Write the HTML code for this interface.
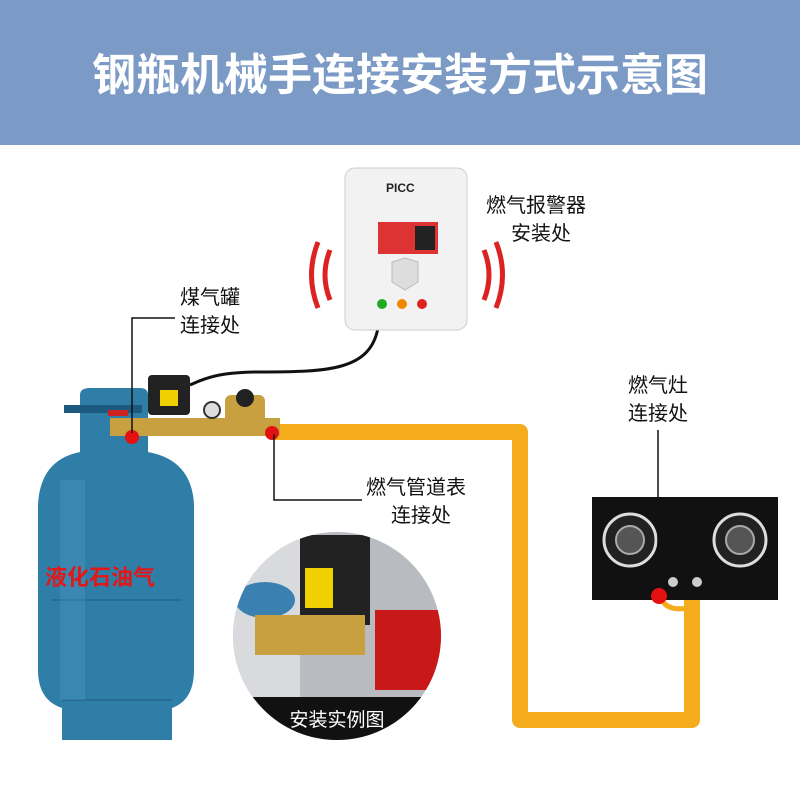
<!DOCTYPE html>
<html><head><meta charset="utf-8"><style>
body{margin:0;width:800px;height:800px;overflow:hidden;background:#fff;font-family:"Liberation Sans","Noto Sans CJK SC",sans-serif}
</style></head><body>
<svg width="800" height="800" viewBox="0 0 800 800" xmlns="http://www.w3.org/2000/svg" font-family="Liberation Sans, Noto Sans CJK SC, sans-serif">
<rect x="0" y="0" width="800" height="145" fill="#7b9bc6"/>
<text x="400" y="90" text-anchor="middle" font-size="44" font-weight="bold" fill="#fff">钢瓶机械手连接安装方式示意图</text>

<!-- yellow pipe -->
<path d="M272 432 H520 V720 H692 V600" fill="none" stroke="#f5ac1c" stroke-width="16" stroke-linejoin="round"/>
<path d="M660 596 Q665 612 688 608" fill="none" stroke="#f5ac1c" stroke-width="5"/>

<!-- stove -->
<rect x="592" y="497" width="186" height="103" fill="#111"/>
<circle cx="630" cy="540" r="26" fill="#222" stroke="#ddd" stroke-width="3"/>
<circle cx="630" cy="540" r="14" fill="#555" stroke="#aaa" stroke-width="2"/>
<circle cx="740" cy="540" r="26" fill="#222" stroke="#ddd" stroke-width="3"/>
<circle cx="740" cy="540" r="14" fill="#555" stroke="#aaa" stroke-width="2"/>
<circle cx="673" cy="582" r="5" fill="#ccc"/><circle cx="697" cy="582" r="5" fill="#ccc"/>
<path d="M658 430 V596" stroke="#111" stroke-width="1.5"/>
<circle cx="659" cy="596" r="8" fill="#e51010"/>

<!-- detector cable -->
<path d="M378 328 C370 370 330 372 260 372 C220 372 205 378 190 385" fill="none" stroke="#111" stroke-width="3"/>
<!-- detector -->
<path d="M330 250 Q320 275 330 300" fill="none" stroke="#d22" stroke-width="5"/>
<path d="M318 242 Q305 275 318 308" fill="none" stroke="#d22" stroke-width="5"/>
<path d="M484 250 Q494 275 484 300" fill="none" stroke="#d22" stroke-width="5"/>
<path d="M496 242 Q509 275 496 308" fill="none" stroke="#d22" stroke-width="5"/>
<rect x="345" y="168" width="122" height="162" rx="10" fill="#f2f2f2" stroke="#ccc"/>
<text x="386" y="192" font-size="12" font-weight="bold" fill="#222">PICC</text>
<rect x="378" y="222" width="60" height="32" fill="#d33"/>
<rect x="415" y="226" width="20" height="24" fill="#222"/>
<path d="M392 262 L405 258 L418 262 L418 282 L405 290 L392 282Z" fill="#ddd" stroke="#bbb"/>
<circle cx="382" cy="304" r="5" fill="#2a2"/><circle cx="402" cy="304" r="5" fill="#e80"/><circle cx="422" cy="304" r="5" fill="#d22"/>

<!-- cylinder -->
<path d="M62 740 L62 708 Q38 700 38 670 L38 505 Q40 460 80 452 L80 395 Q80 388 90 388 L140 388 Q148 388 148 395 L148 452 Q192 460 194 505 L194 670 Q194 700 172 708 L172 740Z" fill="#2f7ea8"/>
<rect x="64" y="405" width="78" height="8" fill="#1d5a80"/>
<path d="M52 600 H182" stroke="#276c92" stroke-width="2"/>
<path d="M62 700 H172" stroke="#276c92" stroke-width="2"/>
<rect x="60" y="480" width="25" height="220" fill="#4a97c0" opacity="0.4"/>
<text x="45" y="585" font-size="22" font-weight="bold" fill="#e01818">液化石油气</text>
<!-- valve assembly -->
<rect x="148" y="375" width="42" height="40" rx="4" fill="#222"/>
<rect x="160" y="390" width="18" height="16" fill="#f0d000"/>
<rect x="110" y="418" width="170" height="18" fill="#c9a040"/>
<rect x="225" y="395" width="40" height="30" rx="6" fill="#c9a040"/>
<circle cx="245" cy="398" r="9" fill="#222"/>
<circle cx="212" cy="410" r="8" fill="#ddd" stroke="#333" stroke-width="2"/>
<rect x="108" y="410" width="20" height="6" fill="#c22"/>
<circle cx="132" cy="437" r="7" fill="#e51010"/>
<circle cx="272" cy="433" r="7" fill="#e51010"/>

<!-- inset photo -->
<clipPath id="c"><circle cx="337" cy="636" r="104"/></clipPath>
<g clip-path="url(#c)">
<rect x="230" y="530" width="215" height="215" fill="#b8bcc0"/>
<rect x="230" y="530" width="70" height="215" fill="#d8dadd"/>
<rect x="300" y="535" width="70" height="90" fill="#222"/>
<rect x="305" y="568" width="28" height="40" fill="#f0d000"/>
<ellipse cx="265" cy="600" rx="30" ry="18" fill="#3a80b0"/>
<rect x="255" y="615" width="110" height="40" fill="#c9a040"/>
<rect x="375" y="610" width="70" height="80" fill="#c81818"/>
<rect x="228" y="697" width="220" height="50" fill="#111"/>
<text x="337" y="726" text-anchor="middle" font-size="19" fill="#fff">安装实例图</text>
</g>

<!-- leader lines -->
<path d="M132 433 V318 H175" fill="none" stroke="#111" stroke-width="1.5"/>
<path d="M274 434 V500 H362" fill="none" stroke="#111" stroke-width="1.5"/>

<g font-size="20" fill="#111">
<text x="180" y="304">煤气罐</text>
<text x="180" y="332">连接处</text>
<text x="486" y="212">燃气报警器</text>
<text x="511" y="240">安装处</text>
<text x="628" y="392">燃气灶</text>
<text x="628" y="420">连接处</text>
<text x="366" y="494">燃气管道表</text>
<text x="391" y="522">连接处</text>
</g>
</svg>
</body></html>
